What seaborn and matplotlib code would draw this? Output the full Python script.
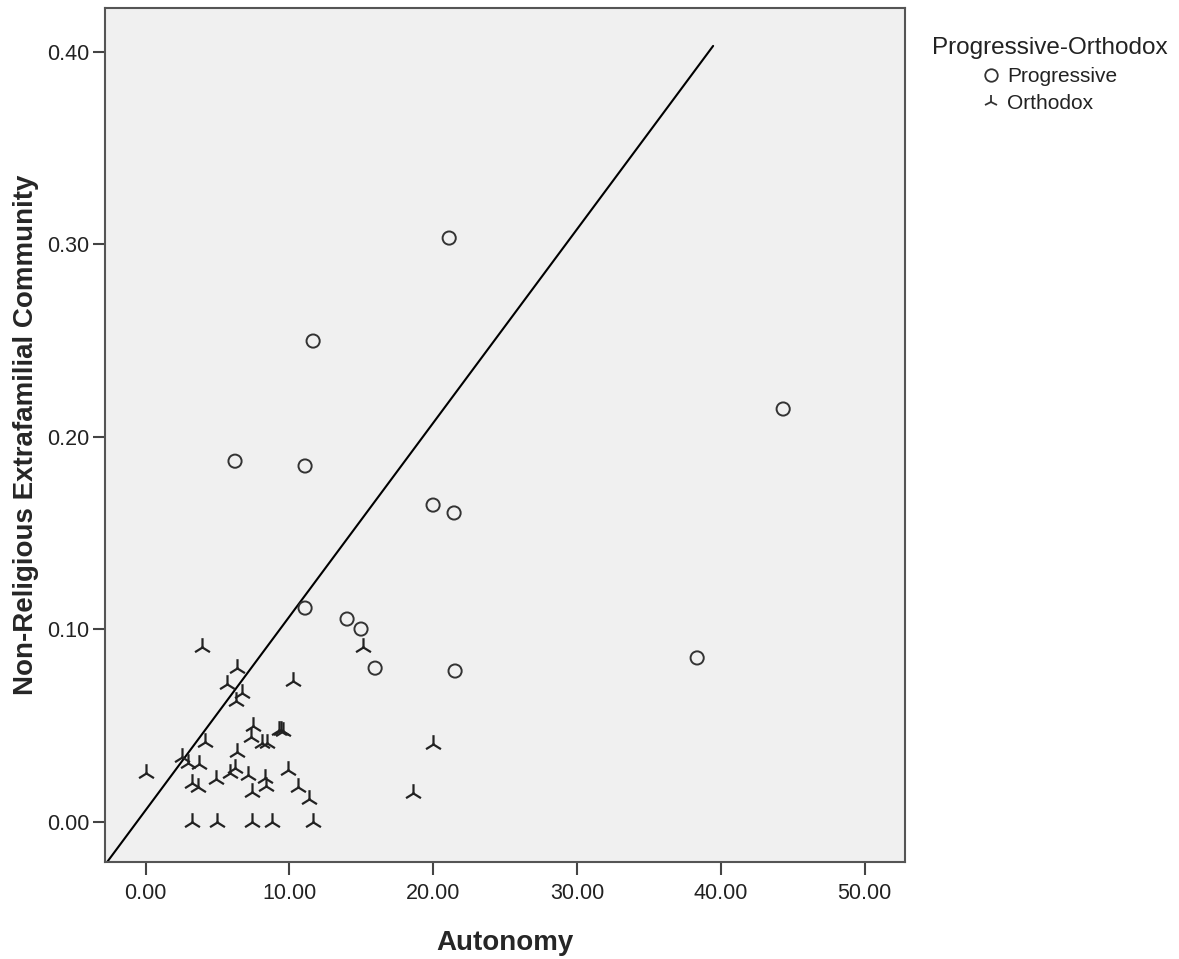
import matplotlib
matplotlib.use("Agg")
import matplotlib.pyplot as plt
from matplotlib.lines import Line2D
import seaborn as sns
import pandas as pd

# Progressive (circles)
prog_x = [21.11, 11.65, 6.22, 11.09, 44.33, 19.99, 21.45, 11.09, 14.01, 14.98, 15.96, 21.52, 38.35]
prog_y = [0.3032, 0.2497, 0.1873, 0.1848, 0.2144, 0.1645, 0.1604, 0.1110, 0.1053, 0.1001,
          0.0798, 0.0783, 0.0851]

# Orthodox (tri markers)
orth_x = [3.91, 6.34, 5.69, 6.69, 6.27, 10.28, 7.50, 9.30, 9.42, 9.58, 7.34, 8.08, 8.43,
          4.14, 6.34, 2.52, 2.98, 3.74, 0.01, 5.88, 6.22, 7.15, 8.31, 9.93, 4.90, 3.21,
          3.63, 8.36, 7.43, 10.63, 11.37, 3.21, 4.99, 7.39, 8.78, 11.67, 15.15, 19.97, 18.58]
orth_y = [0.0909, 0.0797, 0.0715, 0.0667, 0.0627, 0.0732, 0.0497, 0.0478, 0.0476, 0.0472,
          0.0442, 0.0410, 0.0410, 0.0416, 0.0364, 0.0338, 0.0303, 0.0300, 0.0251, 0.0255,
          0.0279, 0.0243, 0.0225, 0.0269, 0.0220, 0.0199, 0.0182, 0.0187, 0.0153, 0.0182,
          0.0116, 0.0, 0.0, 0.0, 0.0, 0.0, 0.0909, 0.0404, 0.0148]

# reference line
line_x = [-2.82, 39.46]
line_y = [-0.0224, 0.4030]

x_ticks = [0, 10, 20, 30, 40, 50]
y_ticks = [0.0, 0.1, 0.2, 0.3, 0.4]

df = pd.DataFrame({
    "Autonomy": prog_x + orth_x,
    "NREC": prog_y + orth_y,
    "group": ["Progressive"] * len(prog_x) + ["Orthodox"] * len(orth_x),
})

sns.set_style("white")
plt.rcParams["font.family"] = ["Liberation Sans", "DejaVu Sans"]

fig = plt.figure(figsize=(11.79, 9.59), dpi=100)
ax = fig.add_axes([105 / 1179, 1 - 862 / 959, 800 / 1179, 854 / 959])
ax.set_facecolor("#f0f0f0")

mark = "#333333"
ax.plot(line_x, line_y, color="black", lw=1.5, zorder=2)

sns.scatterplot(data=df[df.group == "Progressive"], x="Autonomy", y="NREC",
                marker="o", s=90, facecolors="none", edgecolor=mark,
                linewidth=1.4, ax=ax, zorder=3, legend=False)
sns.scatterplot(data=df[df.group == "Orthodox"], x="Autonomy", y="NREC",
                marker="2", s=180, color="#222222", linewidth=1.6,
                ax=ax, zorder=3, legend=False)

ax.set_xlim(-2.82, 52.8)
ax.set_ylim(-0.0209, 0.4227)
ax.set_xticks(x_ticks)
ax.set_xticklabels([f"{v:.2f}" for v in x_ticks])
ax.set_yticks(y_ticks)
ax.set_yticklabels([f"{v:.2f}" for v in y_ticks])

for sp in ax.spines.values():
    sp.set_color("#555555")
    sp.set_linewidth(1.5)
ax.tick_params(axis="both", direction="out", length=9, width=1.5, color="#444444",
               labelsize=15.5, labelcolor="#222222", pad=2,
               bottom=True, left=True, top=False, right=False)
ax.tick_params(axis="x", pad=6)

ax.set_xlabel("Autonomy", fontsize=20, fontweight="bold", labelpad=19)
ax.set_ylabel("Non-Religious Extrafamilial Community", fontsize=20,
              fontweight="bold", labelpad=6)

handles = [
    Line2D([], [], marker="o", linestyle="none", markerfacecolor="none",
           markeredgecolor=mark, markeredgewidth=1.3, markersize=9),
    Line2D([], [], marker="2", linestyle="none", color=mark,
           markeredgewidth=1.3, markersize=10),
]
leg = fig.legend(handles, ["Progressive", "Orthodox"], title="Progressive-Orthodox",
                 loc="upper center", bbox_to_anchor=(1050 / 1179, 1 - 18 / 959),
                 frameon=False, fontsize=15, title_fontsize=17.5,
                 handlelength=0.8, handletextpad=0.4, labelspacing=0.4)
leg.get_title().set_color("#222222")
for t in leg.get_texts():
    t.set_color("#222222")

fig.savefig("out.png", dpi=100, facecolor="white")
